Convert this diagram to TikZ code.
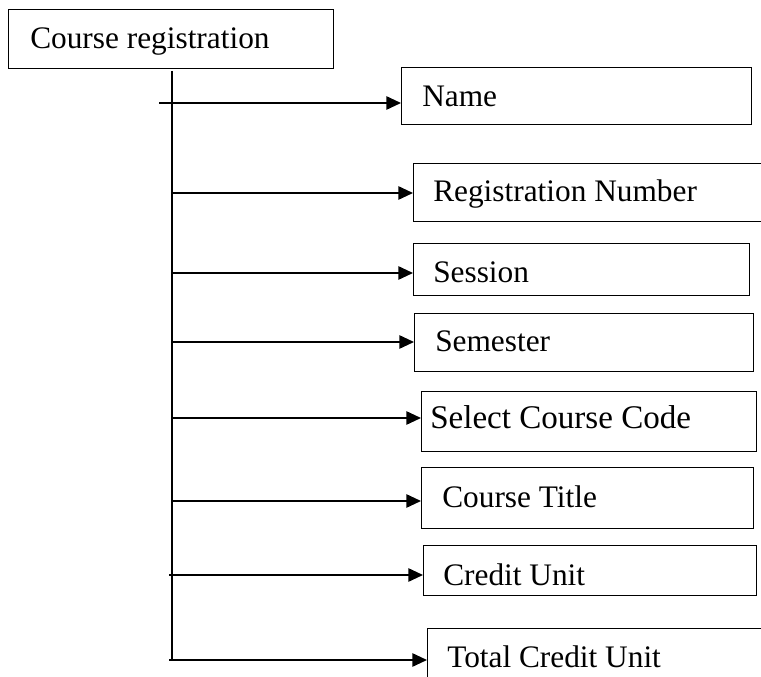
\documentclass[tikz,border=0pt]{standalone}
\usepackage{fontspec}
\setmainfont{Liberation Serif}
\usetikzlibrary{arrows.meta}
\begin{document}
\begin{tikzpicture}[x=0.75pt,y=-0.75pt,
  box/.style={draw=black,line width=1.1pt,fill=none,inner sep=0pt,anchor=north west},
  txt/.style={inner sep=0pt,anchor=base west,font=\fontsize{23.5}{28}\selectfont},
  bigtxt/.style={txt,font=\fontsize{24.8}{29}\selectfont},
  trunk/.style={line width=1.3pt},
  arr/.style={line width=1.3pt,-{Triangle[length=11pt,width=10pt]}}]
\useasboundingbox (0,0) rectangle (761,677);
\clip (0,0) rectangle (761,677);

% root box
\node[box,minimum width=325*0.75pt,minimum height=59*0.75pt] (root) at (8,9) {};
\node[txt] (roottxt) at (30,49) {Course registration};

% field boxes
\node[box,minimum width=350*0.75pt,minimum height=57*0.75pt] (name) at (401,67) {};
\node[txt] (nametxt) at (422,107) {Name};
\node[box,minimum width=360*0.75pt,minimum height=58*0.75pt] (regno) at (413,163) {};
\node[txt] (regnotxt) at (433,202) {Registration Number};
\node[box,minimum width=336*0.75pt,minimum height=52*0.75pt] (session) at (413,243) {};
\node[txt] (sessiontxt) at (433,283) {Session};
\node[box,minimum width=339*0.75pt,minimum height=58*0.75pt] (semester) at (414,313) {};
\node[txt] (semestertxt) at (435,352) {Semester};
\node[box,minimum width=335*0.75pt,minimum height=60*0.75pt] (code) at (421,391) {};
\node[bigtxt] (codetxt) at (430,429) {Select Course Code};
\node[box,minimum width=332*0.75pt,minimum height=61*0.75pt] (title) at (421,467) {};
\node[txt] (titletxt) at (442,507) {Course Title};
\node[box,minimum width=333*0.75pt,minimum height=50*0.75pt] (credit) at (423,545) {};
\node[txt] (credittxt) at (443,585) {Credit Unit};
\node[box,minimum width=350*0.75pt,minimum height=70*0.75pt] (total) at (427,628) {};
\node[txt] (totaltxt) at (447,667) {Total Credit Unit};

% vertical trunk below the root box
\coordinate (ttop) at (172,71);
\coordinate (tbot) at (172,661);
\draw[trunk] (ttop) -- (tbot);

% branch points on the trunk
\coordinate (b1) at (159,103);
\coordinate (b2) at (172,193);
\coordinate (b3) at (172,273);
\coordinate (b4) at (172,342);
\coordinate (b5) at (172,418);
\coordinate (b6) at (172,501);
\coordinate (b7) at (169,575);
\coordinate (b8) at (169,660);

\draw[arr] (b1) -- (b1 -| name.west);
\draw[arr] (b2) -- (b2 -| regno.west);
\draw[arr] (b3) -- (b3 -| session.west);
\draw[arr] (b4) -- (b4 -| semester.west);
\draw[arr] (b5) -- (b5 -| code.west);
\draw[arr] (b6) -- (b6 -| title.west);
\draw[arr] (b7) -- (b7 -| credit.west);
\draw[arr] (b8) -- (b8 -| total.west);
\end{tikzpicture}
\end{document}
